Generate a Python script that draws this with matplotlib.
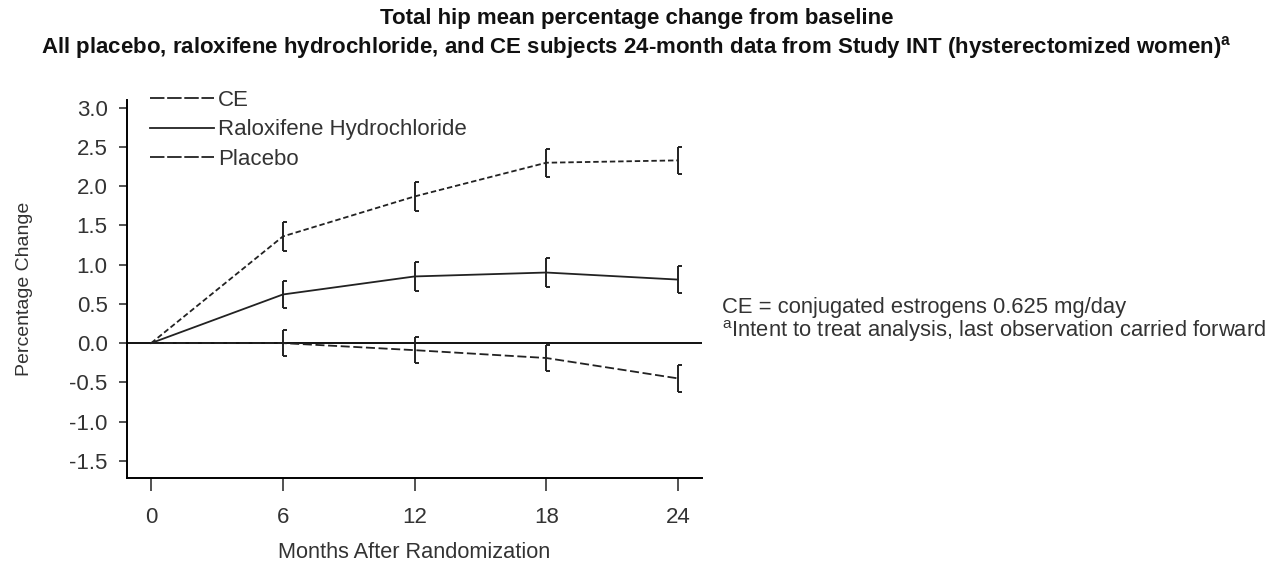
import numpy as np
import matplotlib
matplotlib.use("Agg")
import matplotlib.pyplot as plt
from matplotlib.lines import Line2D

plt.rcParams['font.family'] = ['Liberation Sans', 'DejaVu Sans']

# data
months = [0, 6, 12, 18, 24]
ce_mean = [0.0, 1.36, 1.87, 2.30, 2.33]
ce_err = [0.0, 0.18, 0.18, 0.18, 0.17]
ral_mean = [0.0, 0.62, 0.85, 0.90, 0.81]
ral_err = [0.0, 0.17, 0.19, 0.19, 0.17]
pla_mean = [0.0, 0.0, -0.09, -0.19, -0.45]
pla_err = [0.0, 0.17, 0.17, 0.17, 0.17]

xticks = [0, 6, 12, 18, 24]
yticks = [-1.5, -1.0, -0.5, 0.0, 0.5, 1.0, 1.5, 2.0, 2.5, 3.0]

series = [
    ('CE', ce_mean, ce_err, (0, (3, 1.6)), (0, (8, 1.5))),
    ('Raloxifene Hydrochloride', ral_mean, ral_err, '-', '-'),
    ('Placebo', pla_mean, pla_err, (0, (5, 2)), (0, (8, 1.5))),
]

fig = plt.figure(figsize=(12.73, 5.64), dpi=100)
ax = fig.add_axes([0.0998, 0.1525, 0.4517, 0.6702])

ax.axhline(0, color='#111111', lw=1.4, zorder=1)

handles = []
for name, mean, err, ls, leg_ls in series:
    x = np.array(months, dtype=float)
    m = np.array(mean)
    e = np.array(err)
    ax.plot(x, m, color='#222222', lw=1.3, linestyle=ls, zorder=2)
    # "[" shaped error bars at the follow-up visits
    xe, me, ee = x[1:], m[1:], e[1:]
    ax.vlines(xe, me - ee, me + ee, color='#222222', lw=1.4, zorder=3)
    ax.hlines(me - ee, xe, xe + 0.18, color='#222222', lw=1.4, zorder=3)
    ax.hlines(me + ee, xe, xe + 0.18, color='#222222', lw=1.4, zorder=3)
    handles.append(Line2D([], [], color='#222222', lw=1.3, linestyle=leg_ls))

leg = ax.legend(handles, [s[0] for s in series], loc='upper left',
                bbox_to_anchor=(0.025, 1.05), frameon=False, fontsize=16,
                handlelength=2.85, handletextpad=0.2, labelspacing=0.38,
                borderaxespad=0)
for t in leg.get_texts():
    t.set_color('#333333')

ax.set_xlim(-1.1, 25.1)
ax.set_ylim(-1.72, 3.1)
ax.set_xticks(xticks)
ax.set_xticklabels([str(v) for v in xticks])
ax.set_yticks(yticks)
ax.set_yticklabels(['%.1f' % v for v in yticks])
ax.spines['top'].set_visible(False)
ax.spines['right'].set_visible(False)
ax.spines['left'].set_linewidth(1.4)
ax.spines['bottom'].set_linewidth(1.4)
ax.tick_params(axis='y', direction='out', length=6, width=1.2,
               labelsize=16, colors='#333333', pad=8)
ax.tick_params(axis='x', direction='out', length=9, width=1.2,
               labelsize=16, colors='#333333', pad=12)
ax.set_xlabel('Months After Randomization', fontsize=15.7, color='#333333',
              labelpad=10)
ax.set_ylabel('Percentage Change', fontsize=14, color='#333333', labelpad=26)

fig.text(0.5, 0.968, 'Total hip mean percentage change from baseline',
         ha='center', va='center', fontsize=16, fontweight='bold',
         color='#111111')
fig.text(0.5, 0.916,
         'All placebo, raloxifene hydrochloride, and CE subjects 24-month '
         'data from Study INT (hysterectomized women)$^{\\mathregular{a}}$',
         ha='center', va='center', fontsize=16, fontweight='bold',
         color='#111111')

fig.text(0.567, 0.455, 'CE = conjugated estrogens 0.625 mg/day',
         ha='left', va='center', fontsize=15.8, color='#333333')
fig.text(0.567, 0.413,
         '$^{\\mathregular{a}}$Intent to treat analysis, last observation '
         'carried forward',
         ha='left', va='center', fontsize=15.8, color='#333333')

fig.savefig('out.png', dpi=100)
